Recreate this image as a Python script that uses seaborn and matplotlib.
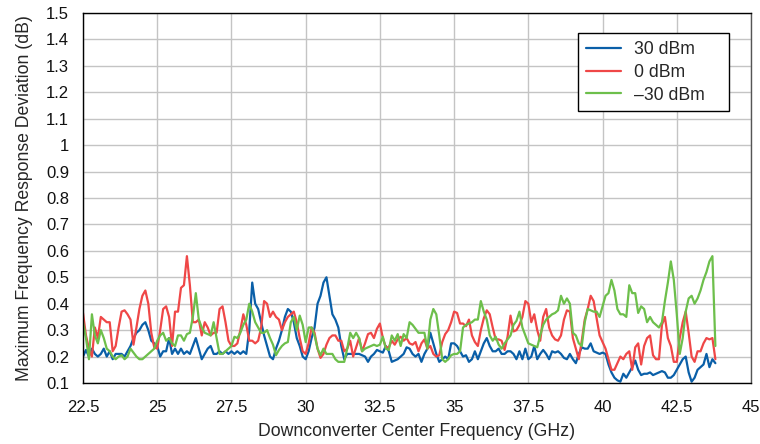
import numpy as np
import pandas as pd
import matplotlib
matplotlib.use("Agg")
import matplotlib.pyplot as plt
import seaborn as sns
from matplotlib.ticker import FuncFormatter

# ---- data ----
freq_start = 22.5
freq_step = 0.1
n_points = 214
freq = np.round(freq_start + freq_step * np.arange(n_points), 2)

p30 = [0.20, 0.225, 0.20, 0.23, 0.21, 0.20, 0.21, 0.23, 0.20, 0.22,
       0.19, 0.21, 0.21, 0.21, 0.20, 0.22, 0.24, 0.27, 0.29, 0.30,
       0.32, 0.33, 0.30, 0.26, 0.25, 0.24, 0.20, 0.22, 0.22, 0.27,
       0.21, 0.23, 0.21, 0.23, 0.21, 0.22, 0.21, 0.24, 0.27, 0.23,
       0.19, 0.21, 0.23, 0.24, 0.21, 0.21, 0.22, 0.21, 0.22, 0.21,
       0.22, 0.21, 0.22, 0.21, 0.22, 0.21, 0.30, 0.48, 0.40, 0.38,
       0.33, 0.28, 0.24, 0.20, 0.19, 0.23, 0.26, 0.30, 0.35, 0.38,
       0.37, 0.33, 0.27, 0.24, 0.20, 0.19, 0.22, 0.27, 0.31, 0.40,
       0.43, 0.48, 0.50, 0.43, 0.36, 0.34, 0.31, 0.24, 0.19, 0.21,
       0.21, 0.21, 0.21, 0.21, 0.205, 0.20, 0.18, 0.20, 0.21, 0.225,
       0.22, 0.215, 0.24, 0.22, 0.18, 0.185, 0.19, 0.20, 0.21, 0.235,
       0.23, 0.21, 0.20, 0.21, 0.18, 0.21, 0.23, 0.29, 0.25, 0.21,
       0.18, 0.19, 0.20, 0.19, 0.25, 0.25, 0.24, 0.22, 0.20, 0.205,
       0.18, 0.19, 0.22, 0.19, 0.22, 0.25, 0.27, 0.24, 0.22, 0.22,
       0.23, 0.21, 0.21, 0.22, 0.22, 0.21, 0.19, 0.22, 0.19, 0.23,
       0.19, 0.20, 0.24, 0.19, 0.21, 0.225, 0.21, 0.19, 0.22, 0.215,
       0.22, 0.21, 0.195, 0.19, 0.21, 0.19, 0.175, 0.21, 0.235, 0.23,
       0.23, 0.25, 0.22, 0.215, 0.21, 0.215, 0.21, 0.17, 0.14, 0.12,
       0.11, 0.105, 0.135, 0.12, 0.14, 0.16, 0.185, 0.15, 0.13, 0.135,
       0.135, 0.14, 0.13, 0.135, 0.14, 0.145, 0.14, 0.12, 0.12, 0.13,
       0.15, 0.17, 0.19, 0.20, 0.14, 0.105, 0.12, 0.15, 0.16, 0.17,
       0.21, 0.16, 0.19, 0.175]

p0 = [0.365, 0.28, 0.23, 0.20, 0.31, 0.27, 0.35, 0.34, 0.33, 0.33,
      0.22, 0.24, 0.31, 0.37, 0.375, 0.36, 0.34, 0.245, 0.31, 0.38,
      0.43, 0.45, 0.40, 0.29, 0.235, 0.23, 0.30, 0.38, 0.39, 0.35,
      0.24, 0.37, 0.37, 0.46, 0.47, 0.58, 0.47, 0.33, 0.33, 0.34,
      0.28, 0.33, 0.31, 0.28, 0.29, 0.29, 0.38, 0.39, 0.33, 0.26,
      0.24, 0.24, 0.25, 0.30, 0.36, 0.32, 0.26, 0.26, 0.25, 0.26,
      0.31, 0.41, 0.40, 0.35, 0.37, 0.35, 0.34, 0.30, 0.33, 0.35,
      0.36, 0.37, 0.33, 0.27, 0.22, 0.21, 0.25, 0.31, 0.29, 0.23,
      0.195, 0.21, 0.245, 0.27, 0.28, 0.28, 0.26, 0.26, 0.22, 0.23,
      0.26, 0.20, 0.235, 0.27, 0.22, 0.25, 0.285, 0.29, 0.27, 0.305,
      0.325, 0.27, 0.235, 0.235, 0.26, 0.245, 0.265, 0.275, 0.26, 0.27,
      0.25, 0.245, 0.255, 0.22, 0.25, 0.265, 0.23, 0.24, 0.21, 0.20,
      0.205, 0.255, 0.285, 0.30, 0.33, 0.37, 0.365, 0.325, 0.325, 0.315,
      0.34, 0.28, 0.255, 0.24, 0.30, 0.345, 0.375, 0.36, 0.31, 0.265,
      0.265, 0.26, 0.225, 0.275, 0.355, 0.295, 0.30, 0.32, 0.35, 0.41,
      0.40, 0.33, 0.36, 0.30, 0.26, 0.35, 0.38, 0.31, 0.28, 0.265,
      0.26, 0.28, 0.34, 0.375, 0.37, 0.27, 0.23, 0.19, 0.26, 0.34,
      0.38, 0.43, 0.41, 0.345, 0.28, 0.255, 0.23, 0.19, 0.15, 0.15,
      0.175, 0.20, 0.19, 0.21, 0.22, 0.15, 0.235, 0.25, 0.17, 0.24,
      0.27, 0.28, 0.205, 0.19, 0.19, 0.32, 0.35, 0.27, 0.24, 0.18,
      0.18, 0.27, 0.33, 0.37, 0.29, 0.20, 0.18, 0.22, 0.22, 0.25,
      0.27, 0.265, 0.27, 0.19]

m30 = [0.33, 0.27, 0.19, 0.36, 0.28, 0.25, 0.30, 0.27, 0.23, 0.22,
       0.20, 0.19, 0.20, 0.205, 0.19, 0.20, 0.23, 0.215, 0.20, 0.19,
       0.19, 0.20, 0.21, 0.22, 0.23, 0.26, 0.28, 0.29, 0.26, 0.27,
       0.25, 0.24, 0.28, 0.28, 0.26, 0.285, 0.29, 0.35, 0.44, 0.34,
       0.31, 0.29, 0.285, 0.28, 0.33, 0.27, 0.21, 0.21, 0.22, 0.23,
       0.24, 0.275, 0.27, 0.29, 0.32, 0.34, 0.40, 0.37, 0.33, 0.31,
       0.29, 0.29, 0.30, 0.27, 0.245, 0.205, 0.225, 0.24, 0.25, 0.255,
       0.33, 0.35, 0.30, 0.355, 0.32, 0.255, 0.31, 0.31, 0.28, 0.23,
       0.205, 0.23, 0.21, 0.21, 0.21, 0.19, 0.18, 0.18, 0.18, 0.23,
       0.29, 0.27, 0.29, 0.27, 0.22, 0.23, 0.235, 0.24, 0.245, 0.24,
       0.245, 0.275, 0.23, 0.225, 0.28, 0.26, 0.285, 0.24, 0.285, 0.27,
       0.33, 0.32, 0.305, 0.29, 0.29, 0.29, 0.23, 0.34, 0.38, 0.36,
       0.28, 0.19, 0.18, 0.19, 0.205, 0.21, 0.21, 0.22, 0.31, 0.32,
       0.325, 0.33, 0.34, 0.34, 0.41, 0.37, 0.34, 0.28, 0.26, 0.275,
       0.245, 0.23, 0.25, 0.265, 0.28, 0.32, 0.335, 0.37, 0.31, 0.28,
       0.25, 0.245, 0.24, 0.235, 0.28, 0.32, 0.34, 0.35, 0.36, 0.365,
       0.375, 0.43, 0.40, 0.42, 0.40, 0.29, 0.28, 0.25, 0.24, 0.33,
       0.38, 0.375, 0.37, 0.37, 0.35, 0.39, 0.43, 0.44, 0.49, 0.45,
       0.38, 0.36, 0.36, 0.35, 0.47, 0.44, 0.44, 0.365, 0.39, 0.38,
       0.33, 0.35, 0.33, 0.32, 0.31, 0.33, 0.41, 0.48, 0.56, 0.49,
       0.36, 0.21, 0.27, 0.37, 0.42, 0.43, 0.40, 0.42, 0.45, 0.49,
       0.52, 0.56, 0.58, 0.24]

series_names = ["30 dBm", "0 dBm", "\u201330 dBm"]
series_colors = ["#0a5fa8", "#ef4747", "#6dbf4b"]

x_ticks = [22.5, 25, 27.5, 30, 32.5, 35, 37.5, 40, 42.5, 45]
y_ticks = [0.1, 0.2, 0.3, 0.4, 0.5, 0.6, 0.7, 0.8, 0.9, 1.0, 1.1, 1.2, 1.3, 1.4, 1.5]

df = pd.concat([
    pd.DataFrame({"freq": freq, "dev": vals, "series": name})
    for name, vals in zip(series_names, [p30, p0, m30])
], ignore_index=True)

# ---- plot ----
sns.set_style("white")
plt.rcParams["font.family"] = ["Liberation Sans", "DejaVu Sans"]

fig = plt.figure(figsize=(7.6, 4.44), dpi=100)
ax = fig.add_axes([83 / 760, 1 - 383 / 444, 668 / 760, 370 / 444])

sns.lineplot(data=df, x="freq", y="dev", hue="series", hue_order=series_names,
             palette=dict(zip(series_names, series_colors)), linewidth=1.6,
             ax=ax, legend=True, estimator=None)

ax.set_xlim(22.5, 45)
ax.set_ylim(0.1, 1.5)
ax.set_xticks(x_ticks)
ax.set_yticks(y_ticks)
fmt = FuncFormatter(lambda v, p: f"{v:g}")
ax.xaxis.set_major_formatter(fmt)
ax.yaxis.set_major_formatter(fmt)
ax.grid(True, color="#c4c4c4", linewidth=1.0)
ax.set_axisbelow(True)
ax.tick_params(axis="both", direction="out", length=6, width=1, color="black",
               labelsize=12, labelcolor="#111111", pad=4)
ax.tick_params(axis="x", pad=6)
for s in ["left", "bottom", "top"]:
    ax.spines[s].set_color("black")
    ax.spines[s].set_linewidth(1.0)
ax.spines["right"].set_color("#555555")
ax.spines["right"].set_linewidth(1.0)

ax.set_xlabel("Downconverter Center Frequency (GHz)", fontsize=12.7, labelpad=6)
ax.set_ylabel("Maximum Frequency Response Deviation (dB)", fontsize=12.7, labelpad=9)

leg = ax.legend(loc="upper left", bbox_to_anchor=(0.741, 0.746, 0.226, 0.2),
                mode="expand", fontsize=12.7,
                frameon=True, fancybox=False, edgecolor="black", framealpha=1,
                handlelength=2.0, handletextpad=0.7, labelspacing=0.33,
                borderpad=0.45, borderaxespad=0)
leg.get_frame().set_linewidth(1.0)
for line in leg.get_lines():
    line.set_linewidth(1.6)

fig.savefig("out.png", dpi=100)
